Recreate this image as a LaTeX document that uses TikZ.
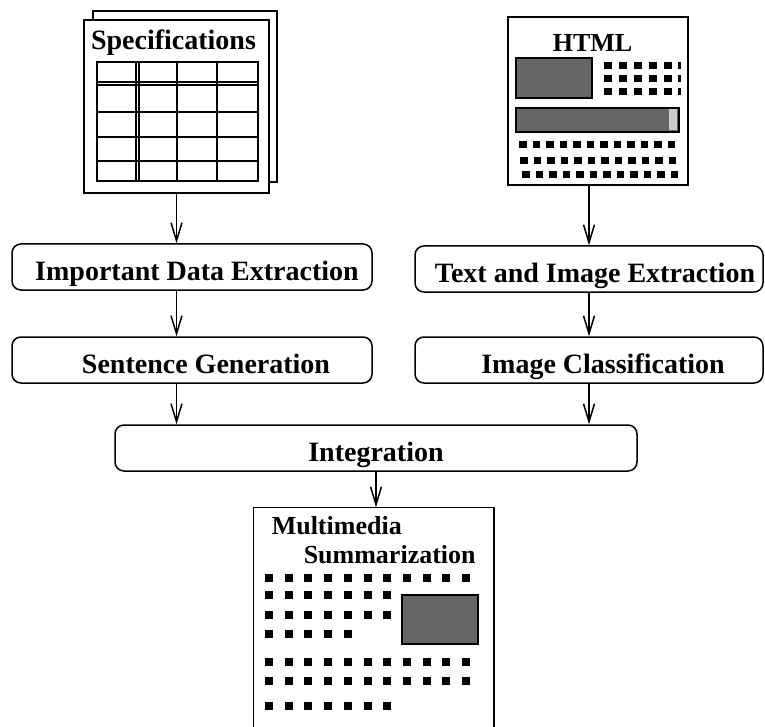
\documentclass[tikz,border=0pt]{standalone}
\usepackage{fontspec}
\setmainfont{Liberation Serif}
\usetikzlibrary{arrows.meta, positioning}

\begin{document}
\begin{tikzpicture}[x=1pt, y=-1pt, line width=1.5pt,
        stepbox/.style={draw, rounded corners=9pt, minimum height=46pt, inner sep=0pt,
            text height=27pt, text depth=0pt, font=\fontsize{28}{30}\selectfont\bfseries},
        docpage/.style={draw, fill=white, inner sep=0pt},
        doctitle/.style={inner sep=0pt, font=\fontsize{26}{28}\selectfont\bfseries},
        greybox/.style={draw, fill=black!60},
        flow/.style={-{Straight Barb[length=18pt, width=11pt]}}]
        \useasboundingbox (0,0) rectangle (765,727);

        % spec sheets with the table
        \node[docpage, minimum width=184pt, minimum height=171pt] (specback) at (185,96.5) {};
        \node[docpage, minimum width=185pt, minimum height=173pt] (spec) at (176.5,106.5) {};
        \node[doctitle, anchor=base, font=\fontsize{28}{30}\selectfont\bfseries] (spectitle) at (173.5,50) {Specifications};
        \draw (97,62) rectangle (258,181);
        \foreach \y in {82,85,112,137,161} \draw (97,\y) -- (258,\y);
        \foreach \x in {136,139,177,217} \draw (\x,62) -- (\x,181);

        % html page
        \node[docpage, minimum width=180pt, minimum height=168pt] (html) at (598,101) {};
        \node[doctitle, anchor=base] (htmltitle) at (592.5,52) {HTML};
        \draw[greybox] (516,58) rectangle (592,98);
        \foreach \y in {62,75,88} {
            \foreach \x in {604,619,...,664} \fill (\x,\y) rectangle +(7.5,7);
            \fill (678,\y) rectangle +(2.5,7);
        }
        \draw[greybox] (516,108) rectangle (679,132);
        \fill[black!20] (669,109.5) rectangle (677,130.5);
        \foreach \y/\s in {141/519,157/520,171/522}
            \foreach \i in {0,...,11} \fill (\s+13.5*\i,\y) rectangle +(7.5,7);

        \node[stepbox, minimum width=360pt] (ide) at (192,267) {\hspace*{10pt}Important Data Extraction};
        \node[stepbox, minimum width=360pt] (sg) at (192,360) {\hspace*{28pt}Sentence Generation};
        \node[stepbox, minimum width=348pt] (tie) at (589,269) {\hspace*{12pt}Text and Image Extraction};
        \node[stepbox, minimum width=348pt] (ic) at (589,360) {\hspace*{28pt}Image Classification};
        \node[stepbox, minimum width=522pt] (integ) at (376,448) {Integration};

        % summary page, open at the bottom
        \node[inner sep=0pt, minimum width=239pt, minimum height=222pt] (out) at (373.5,619) {};
        \draw (out.south west) |- (out.north) -| (out.south east);
        \node[doctitle, anchor=base west] (mmtitle) at (271,534) {Multimedia};
        \node[doctitle, anchor=base west] (sumtitle) at (303,563) {Summarization};
        \foreach \y/\n in {574/10,591/6,611/6,630/4,658/10,677/10,702/6}
            \foreach \i in {0,...,\n} \fill (265+19.7*\i,\y) rectangle +(8,8);
        \draw[greybox] (402,595) rectangle (478,644);

        \draw[flow] (spec.south) -- (spec.south |- ide.north);
        \draw[flow] (spec.south |- ide.south) -- (spec.south |- sg.north);
        \draw[flow] (spec.south |- sg.south) -- (spec.south |- integ.north);
        \draw[flow] (ic.north |- html.south) -- (tie.north);
        \draw[flow] (tie.south) -- (ic.north);
        \draw[flow] (ic.south) -- (ic.south |- integ.north);
        \draw[flow] (integ.south) -- (integ.south |- out.north);
    \end{tikzpicture}
\end{document}
